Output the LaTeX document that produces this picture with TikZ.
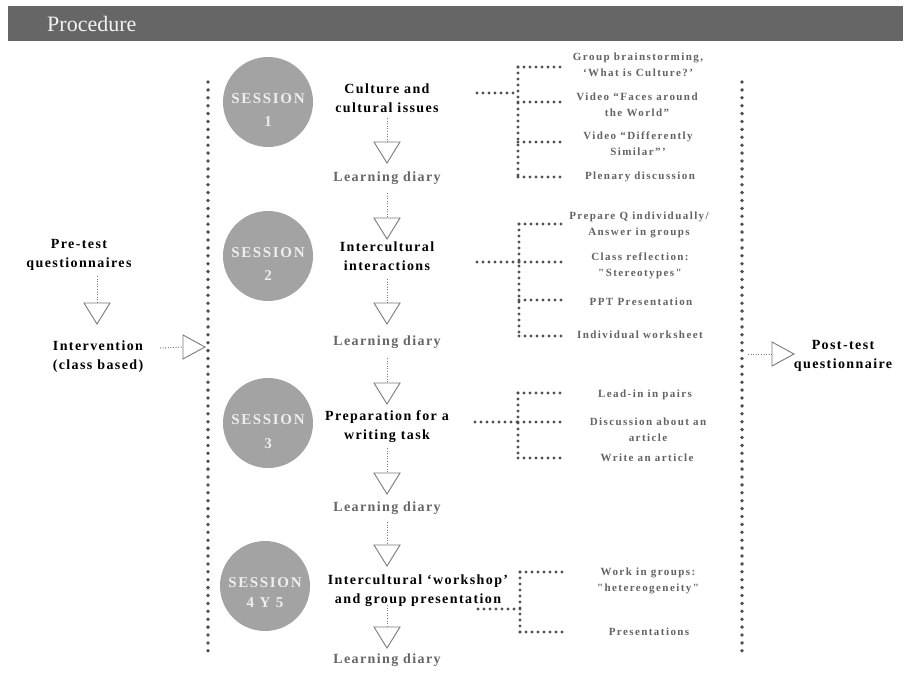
\documentclass[tikz,border=0pt]{standalone}
\usepackage{fontspec}
\usetikzlibrary{decorations.markings}
\setmainfont{Liberation Serif}
\newfontfamily\tracktitle[LetterSpace=10,Ligatures=TeXOff]{Liberation Serif}
\newfontfamily\trackitem[LetterSpace=13,Ligatures=TeXOff]{Liberation Serif}
\newfontfamily\tracksess[LetterSpace=11,Ligatures=TeXOff]{Liberation Serif}
\definecolor{hdr}{HTML}{666666}
\definecolor{hdrtxt}{HTML}{F2F2F2}
\definecolor{circ}{HTML}{A3A3A3}
\definecolor{sesstxt}{HTML}{EEEEEE}
\definecolor{dotc}{HTML}{505050}
\definecolor{itemc}{HTML}{636363}
\definecolor{diaryc}{HTML}{666666}
\definecolor{tric}{HTML}{7A7A7A}
\tikzset{
  bigdots/.style={decoration={markings, mark=between positions 0 and 1 step 7.9pt with {\fill[dotc] (0,0) circle (1.9pt);}}, postaction={decorate}},
  brk/.style={decoration={markings, mark=between positions 0 and 1 step 6pt with {\fill[dotc] (0,0) circle (1.55pt);}}, postaction={decorate}},
  fine/.style={draw=tric, line width=1pt, dash pattern=on 1pt off 1.6pt},
  tri/.style={draw=tric, line width=0.9pt, fill=white, line join=miter},
  downtri/.pic={\draw[tri] (-13,0) -- (13,0) -- (0,21) -- cycle;},
  righttri/.pic={\draw[tri] (0,-12) -- (22,0) -- (0,12) -- cycle;},
  sess/.style={circle, fill=circ, minimum size=90pt, inner sep=0},
  sesstext/.style={text=sesstxt, inner sep=0, font={\tracksess\fontsize{15}{18}\selectfont\bfseries}},
  titlebox/.style={align=center, inner sep=0, text=black, font={\tracktitle\fontsize{14}{19}\selectfont\bfseries}},
  diary/.style={inner sep=0, text=diaryc, font={\tracktitle\fontsize{14}{19}\selectfont\bfseries}},
  item/.style={align=center, inner sep=0, text=itemc, font={\trackitem\fontsize{11}{16}\selectfont\bfseries}},
}
\begin{document}
\begin{tikzpicture}[x=1pt,y=-1pt]
\useasboundingbox[fill=white] (0,0) rectangle (909,682);
% header
\fill[hdr] (8,6) rectangle (903,41);
\node[anchor=base west, inner sep=0, text=hdrtxt, font={\fontsize{22}{24}\selectfont}] (head) at (47,32) {Procedure};

% big dotted verticals
\coordinate (L1) at (208,82); \coordinate (L2) at (208,655);
\coordinate (R1) at (742,82); \coordinate (R2) at (742,655);
\path[bigdots] (L1) -- (L2);
\path[bigdots] (R1) -- (R2);

% left column
\node[titlebox] (pre) at (79,254.5) {Pre-test\\questionnaires};
\coordinate (pa) at (97,276); \coordinate (pb) at (97,303);
\draw[fine] (pa) -- (pb);
\pic at (pb) {downtri};
\node[titlebox] (interv) at (98,356.5) {Intervention\\(class based)};
\coordinate (ia) at (160,348); \coordinate (ib) at (183,347);
\draw[fine] (ia) -- (ib);
\pic at (ib) {righttri};

% right column
\coordinate (qa) at (748,354); \coordinate (qb) at (772,354);
\draw[fine] (qa) -- (qb);
\pic at (qb) {righttri};
\node[titlebox] (post) at (843,355.5) {Post-test\\questionnaire};

% ---------- Session 1
\node[sess] (c1) at (268,102) {};
\node[sesstext] (c1s) at (268,99) {SESSION};
\node[sesstext] (c1n) at (268,122) {1};
\node[titlebox] (t1) at (387,98.5) {Culture and\\cultural issues};
\coordinate (a1) at (387,118); \coordinate (b1) at (387,142);
\draw[fine] (a1) -- (b1); \pic at (b1) {downtri};
\node[diary] (d1) at (387,178) {Learning diary};
\coordinate (a2) at (387,193); \coordinate (b2) at (387,218);
\draw[fine] (a2) -- (b2); \pic at (b2) {downtri};

\coordinate (m1a) at (477,93); \coordinate (m1b) at (518,93);
\path[brk] (m1a) -- (m1b);
\path[brk] (518,67) -- (518,177);
\foreach \yy in {67,102,142,177} \path[brk] (518,\yy) -- (560,\yy);
\node[item] (i11) at (638,65) {Group brainstorming,\\‘What is Culture?’};
\node[item] (i12) at (637,105) {Video “Faces around\\the World”};
\node[item] (i13) at (638,143.5) {Video “Differently\\Similar”’};
\node[item] (i14) at (640,177) {Plenary discussion};

% ---------- Session 2
\node[sess] (c2) at (268,256) {};
\node[sesstext] (c2s) at (268,253) {SESSION};
\node[sesstext] (c2n) at (268,276) {2};
\node[titlebox] (t2) at (387,256.5) {Intercultural\\interactions};
\coordinate (a3) at (387,279); \coordinate (b3) at (387,303);
\draw[fine] (a3) -- (b3); \pic at (b3) {downtri};
\node[diary] (d2) at (387,342) {Learning diary};
\coordinate (a4) at (387,358); \coordinate (b4) at (387,383);
\draw[fine] (a4) -- (b4); \pic at (b4) {downtri};

\coordinate (m2a) at (477,262); \coordinate (m2b) at (519,262);
\path[brk] (m2a) -- (m2b);
\path[brk] (519,224) -- (519,336);
\foreach \yy in {224,262,300,336} \path[brk] (519,\yy) -- (561,\yy);
\node[item] (i21) at (639,225) {Prepare Q individually/\\Answer in groups};
\node[item] (i22) at (640,266) {Class reflection:\\"Stereotypes"};
\node[item] (i23) at (641,302) {PPT Presentation};
\node[item] (i24) at (640,335) {Individual worksheet};

% ---------- Session 3
\node[sess] (c3) at (268,423) {};
\node[sesstext] (c3s) at (268,420) {SESSION};
\node[sesstext] (c3n) at (268,444) {3};
\node[titlebox] (t3) at (387,426.5) {Preparation for a\\writing task};
\coordinate (a5) at (387,448); \coordinate (b5) at (387,473);
\draw[fine] (a5) -- (b5); \pic at (b5) {downtri};
\node[diary] (d3) at (387,508) {Learning diary};
\coordinate (a6) at (387,522); \coordinate (b6) at (387,545);
\draw[fine] (a6) -- (b6); \pic at (b6) {downtri};

\coordinate (m3a) at (475,422); \coordinate (m3b) at (518,422);
\path[brk] (m3a) -- (m3b);
\path[brk] (518,393) -- (518,458);
\foreach \yy in {393,422,458} \path[brk] (518,\yy) -- (560,\yy);
\node[item] (i31) at (645,395) {Lead-in in pairs};
\node[item] (i32) at (648,429.5) {Discussion about an\\article};
\node[item] (i33) at (647,458) {Write an article};

% ---------- Session 4
\node[sess] (c4) at (265,586) {};
\node[sesstext] (c4s) at (265,583) {SESSION};
\node[sesstext] (c4n) at (265,603) {4 Y 5};
\node[titlebox] (t4) at (418,591) {Intercultural ‘workshop’\\and group presentation};
\coordinate (a7) at (387,605); \coordinate (b7) at (387,627);
\draw[fine] (a7) -- (b7); \pic at (b7) {downtri};
\node[diary] (d4) at (387,660) {Learning diary};

\coordinate (m4a) at (478,609); \coordinate (m4b) at (520,609);
\path[brk] (m4a) -- (m4b);
\path[brk] (520,572) -- (520,632);
\foreach \yy in {572,632} \path[brk] (520,\yy) -- (562,\yy);
\node[item] (i41) at (648,580.5) {Work in groups:\\"hetereogeneity"};
\node[item] (i42) at (649,632) {Presentations};
\end{tikzpicture}
\end{document}
